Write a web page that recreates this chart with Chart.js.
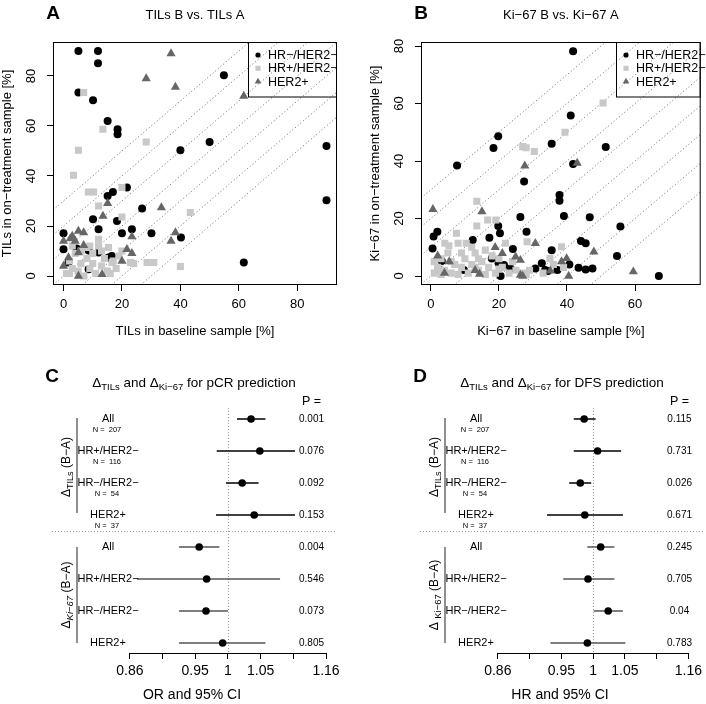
<!DOCTYPE html>
<html>
<head>
<meta charset="utf-8">
<script src="https://cdn.jsdelivr.net/npm/chart.js@4.4.1/dist/chart.umd.min.js"></script>
<style>
body { margin: 0; background: #fff; width: 706px; height: 704px; position: relative; overflow: hidden; }
canvas { position: absolute; }
</style>
</head>
<body>
<canvas id="pA" width="353" height="352" style="left:0px;top:0px"></canvas>
<canvas id="pB" width="338" height="352" style="left:368px;top:0px"></canvas>
<canvas id="pC" width="353" height="352" style="left:0px;top:352px"></canvas>
<canvas id="pD" width="338" height="352" style="left:368px;top:352px"></canvas>
<script>
const FONT = "'Liberation Sans', Arial, Helvetica, sans-serif";
Chart.defaults.font.family = FONT;
Chart.defaults.color = '#000';

// A: TILs baseline (x) vs on-treatment (y)
const tilsHRneg = [
  [5.1,90],[11.8,90],[11.8,85.1],[5.1,73.4],[10.1,70.3],[15.1,62],[18.5,58.7],[18.5,56.7],
  [40,50.3],[50,53.6],[54.9,80.3],[90,52],[21.7,35.4],[15.1,32],[16.9,33.6],[26.9,27],
  [10.1,22.7],[18.3,22],[12,18.7],[20,17.1],[23.4,18.7],[30.1,17.1],[40.2,15.4],[0,17.1],
  [90,30.3],[61.7,5.4],[8.6,10.2],[12,9.4],[15.4,7.4],[0,10.7],[1.7,5.4],[4.5,11],[8.6,2.7],[16.5,8]
];
const tilsHRpos = [
  [6.9,73.4],[13.5,58.7],[28.3,53.6],[5.1,50.3],[3.4,40.3],[8.5,33.6],[10.3,33.6],[20,35.4],
  [12,28],[43.4,25.4],[20,23.6],[12,14.7],[40,3.8],[28.6,5.4],[30.9,5.4],[22.9,5.4],[16.6,5.4],
  [8,11.4],[15.4,11.4],[20,10],[1,1],[2,6],[3,3],[4,9],[5,2],[6,5],[7,0],[8,7],[9,3],[10,5],
  [11,1],[12,12],[13,4],[14,7],[15,2],[17,6],[18,3],[19,8],[24,5],[3,12],[6,10],[10,9],[13,10],
  [16,1],[2,1],[9,12]
];
const tilsHER2 = [
  [36.8,89],[28.3,79],[38.3,75.6],[61.7,72],[15.1,29.1],[13.5,24],[33.5,27.4],[5.1,18],[6.9,17.4],
  [0,14],[2.3,15],[23.4,15.8],[38.3,17.4],[36.8,14],[21.7,10.7],[23.4,9.1],[20,6],[5.1,9.4],[1.7,7.4],
  [0,4],[13.2,0.7],[5.1,0],[6.9,12.3],[4,14],[3,16]
];

// B: Ki-67 baseline (x) vs on-treatment (y)
const kiHRneg = [
  [41.8,78.2],[41.1,55.8],[19.8,48.6],[18.4,44.5],[35.5,46],[51.4,44.9],[7.7,38.4],[41.8,39],
  [27.4,32.9],[37.8,28.2],[37.8,26.2],[26.3,20.5],[39.1,20.9],[46.7,20.4],[55.7,17.2],[19.8,17.4],
  [20.3,14.9],[1.9,15.4],[0.8,13.7],[17.2,13.3],[28.1,15.4],[12.3,12.5],[44.1,12.2],[45.5,11.4],
  [54.7,7],[35.5,9],[24.1,9.4],[17.9,6.1],[40.7,4],[19.9,4.4],[21.5,3.8],[23.4,2.6],[30.7,2.6],
  [32.6,4.4],[33.6,2.1],[37.2,2.1],[43.4,2.9],[45.5,2.3],[47.5,2.6],[20.5,0],[67,0],[3.2,5.2],
  [2.2,2.4],[9.7,2.1],[0.5,9.6],[34.4,1.7]
];
const kiHRpos = [
  [50.6,60.2],[39.4,50],[27,45],[28,44.6],[30.4,43.3],[13.5,26],[16.7,19.5],[19.1,19.5],[13.5,17.4],
  [7.5,14.9],[4.1,11.4],[5.3,10.5],[8,11.4],[10.4,11.4],[28.3,11.9],[38.4,10.2],[21.9,11.4],[20,2.4],[35,6.1],
  [1,1],[2,3],[3,6],[4,2],[5,8],[6,1],[7,4],[8,0.5],[9,3],[10,6],[11,1],[12,4],[13,8],[14,2],[15,5],
  [16,0.5],[17,3],[18,7],[19,1],[21,3],[23,1],[24,5],[25,2],[27,1],[29,2],[12,10],[14,6],[6,5],
  [3,0.5],[9,8],[1,5],[16,9],[13,3],[20,6],[28,0.5],[33,1],[36,4],[39,3]
];
const kiHER2 = [
  [27.6,38.3],[43,39.3],[0.6,23.2],[15,22.4],[30.7,11.4],[47.9,8.4],[18.9,10],[21,7.9],[24.9,6.7],
  [26.3,5.5],[39.9,6.1],[38.4,5],[40.5,0],[14.3,0.7],[26.3,0.3],[27,0],[35.1,1.8],[5.4,5],[59.5,1.5],
  [2,7],[13,2],[4,1]
];

const groupNames = ['HR\u2212/HER2\u2212', 'HR+/HER2\u2212', 'HER2+'];
const groupColors = ['#000000', '#c8c8c8', '#666666'];
const groupShapes = ['circle', 'rect', 'triangle'];
const tilsTicks = [0, 20, 40, 60, 80];
const kiXTicks = [0, 20, 40, 60];
const kiYTicks = [0, 20, 40, 60, 80];
const tilsDiagonals = [-30, -20, -10, 0, 10, 20, 30];
const kiDiagonals = [-50, -40, -30, -20, -10, 0, 10, 20, 30];

// C / D: forest plots
const rowLabels = ['All', 'HR+/HER2\u2212', 'HR\u2212/HER2\u2212', 'HER2+', 'All', 'HR+/HER2\u2212', 'HR\u2212/HER2\u2212', 'HER2+'];
const rowN = ['207', '116', '54', '37'];
const pcrEst = [1.036, 1.050, 1.022, 1.041, 0.957, 0.968, 0.967, 0.992];
const pcrLo  = [1.014, 0.983, 0.997, 0.982, 0.928, 0.870, 0.928, 0.928];
const pcrHi  = [1.059, 1.108, 1.048, 1.108, 0.987, 1.083, 1.000, 1.059];
const pcrP   = ['0.001', '0.076', '0.092', '0.153', '0.004', '0.546', '0.073', '0.805'];
const dfsEst = [0.986, 1.007, 0.980, 0.987, 1.012, 0.992, 1.024, 0.991];
const dfsLo  = [0.970, 0.970, 0.963, 0.930, 0.991, 0.954, 1.001, 0.935];
const dfsHi  = [1.004, 1.045, 0.997, 1.048, 1.034, 1.034, 1.048, 1.052];
const dfsP   = ['0.115', '0.731', '0.026', '0.671', '0.245', '0.705', '0.04', '0.783'];
const ciTicks = [0.8607, 0.9048, 0.9512, 1, 1.0513, 1.1052, 1.1618];
const ciTickLabels = ['0.86', '', '0.95', '1', '1.05', '', '1.16'];

function toXY(arr) { return arr.map(p => ({ x: p[0], y: p[1] })); }

// text made of pieces (for subscripts), centred on x,y
function richText(ctx, parts, x, y, rot) {
  ctx.save();
  ctx.translate(x, y);
  if (rot) ctx.rotate(rot);
  let w = 0;
  parts.forEach(p => { ctx.font = p.font; p.w = ctx.measureText(p.t).width; w += p.w; });
  let cx = -w / 2;
  ctx.textAlign = 'left';
  ctx.textBaseline = 'alphabetic';
  parts.forEach(p => { ctx.font = p.font; ctx.fillText(p.t, cx, 4.5 + (p.dy || 0)); cx += p.w; });
  ctx.restore();
}

function scatterPanel(id, o) {
  const datasets = o.diagonals.map(c => ({
    data: [{ x: -50, y: -50 + c }, { x: 150, y: 150 + c }],
    showLine: true, pointRadius: 0, borderColor: '#444', borderWidth: 0.8,
    borderDash: [1, 2.5], order: 10
  }));
  o.groups.forEach((g, i) => datasets.push({
    data: toXY(g), pointStyle: groupShapes[i], pointRadius: [4, 5, 5.3][i],
    backgroundColor: groupColors[i], borderWidth: 0, order: 3 - i
  }));
  const tickFont = { size: 13 };
  new Chart(document.getElementById(id), {
    type: 'scatter',
    data: { datasets },
    options: {
      responsive: false, animation: false, events: [],
      layout: { padding: { left: 0, top: 42, right: o.padRight, bottom: 0 } },
      plugins: { legend: { display: false }, tooltip: { enabled: false } },
      scales: {
        x: {
          type: 'linear', min: o.xMin, max: o.xMax,
          afterBuildTicks: s => { s.ticks = o.xTicks.map(v => ({ value: v })); },
          afterFit: s => { s.height = 67; },
          grid: { drawOnChartArea: false, tickLength: 6, color: '#000' },
          border: { display: false },
          ticks: { padding: 6, font: tickFont, maxRotation: 0, autoSkip: false },
          title: { display: true, text: o.xTitle, font: { size: 13 }, padding: { top: 0, bottom: 12.5 } }
        },
        y: {
          type: 'linear', min: o.yMin, max: o.yMax,
          afterBuildTicks: s => { s.ticks = o.yTicks.map(v => ({ value: v })); },
          afterFit: s => { s.width = 53; },
          grid: { drawOnChartArea: false, tickLength: 6, color: '#000' },
          border: { display: false },
          ticks: { padding: 8, font: tickFont, minRotation: 90, maxRotation: 90, crossAlign: 'center', autoSkip: false },
          title: { display: true, text: o.yTitle, font: { size: 13 }, padding: { top: 0, bottom: 0 } }
        }
      }
    },
    plugins: [{
      id: 'frame',
      afterDraw(chart) {
        const ctx = chart.ctx, a = chart.chartArea;
        ctx.save();
        ctx.strokeStyle = '#000';
        ctx.lineWidth = 1;
        ctx.strokeRect(a.left + 0.5, a.top + 0.5, a.right - a.left - 1, a.bottom - a.top - 1);
        // legend
        ctx.strokeRect(248.5, a.top + 0.5, a.right - 249, 54.5);
        groupNames.forEach((name, i) => {
          const y = 55 + i * 13.3;
          ctx.fillStyle = groupColors[i];
          Chart.helpers.drawPoint(ctx, { pointStyle: groupShapes[i], radius: [2.6, 3.6, 3.8][i], rotation: 0, borderWidth: 0 }, 258, y);
          ctx.fillStyle = '#000';
          ctx.font = '12.5px ' + FONT;
          ctx.textAlign = 'left';
          ctx.textBaseline = 'middle';
          ctx.fillText(name, 268, y + 0.5);
        });
        ctx.font = 'bold 19px ' + FONT;
        ctx.textAlign = 'center';
        ctx.fillText(o.letter, 53, 13.5);
        ctx.font = '13px ' + FONT;
        ctx.fillText(o.title, (a.left + a.right) / 2, 15.5);
        ctx.restore();
      }
    }]
  });
}

scatterPanel('pA', {
  groups: [tilsHRneg, tilsHRpos, tilsHER2], diagonals: tilsDiagonals, padRight: 16,
  xMin: -3.6, xMax: 93.6, yMin: -3.6, yMax: 93.6, xTicks: tilsTicks, yTicks: tilsTicks,
  xTitle: 'TILs in baseline sample [%]', yTitle: 'TILs in on\u2212treatment sample [%]',
  letter: 'A', title: 'TILs B vs. TILs A'
});
scatterPanel('pB', {
  groups: [kiHRneg, kiHRpos, kiHER2], diagonals: kiDiagonals, padRight: 1,
  xMin: -2.9, xMax: 79.3, yMin: -3.13, yMax: 81.4, xTicks: kiXTicks, yTicks: kiYTicks,
  xTitle: 'Ki\u221267 in baseline sample [%]', yTitle: 'Ki\u221267 in on\u2212treatment sample [%]',
  letter: 'B', title: 'Ki\u221267 B vs. Ki\u221267 A'
});

function forestPanel(id, o) {
  const rows = rowLabels.map((_, i) => i + 1);
  const datasets = rows.map((r, i) => ({
    data: [{ x: o.lo[i], y: r }, { x: o.hi[i], y: r }],
    showLine: true, pointRadius: 0, borderColor: i < 4 ? '#000' : '#555', borderWidth: 1.4, order: 2
  }));
  datasets.push({
    data: rows.map((r, i) => ({ x: o.est[i], y: r })),
    pointRadius: 3.8, backgroundColor: '#000', borderWidth: 0, order: 1
  });
  const f = (s, w) => (w || '') + s + 'px ' + FONT;
  new Chart(document.getElementById(id), {
    type: 'scatter',
    data: { datasets },
    options: {
      responsive: false, animation: false, events: [],
      layout: { padding: { left: 129.3, top: 51, right: o.padRight, bottom: 0 } },
      plugins: { legend: { display: false }, tooltip: { enabled: false } },
      scales: {
        x: {
          type: 'logarithmic', min: ciTicks[0], max: ciTicks[ciTicks.length - 1],
          afterBuildTicks: s => { s.ticks = ciTicks.map(v => ({ value: v })); },
          afterFit: s => { s.height = 51; },
          grid: { drawOnChartArea: false, tickLength: 6, color: '#000' },
          border: { display: true, color: '#000', width: 1 },
          ticks: { padding: 4, font: { size: 14 }, maxRotation: 0, autoSkip: false,
                   callback: (v, i) => ciTickLabels[i] }
        },
        y: { type: 'linear', min: 0.5, max: 8.3125, reverse: true, display: false }
      }
    },
    plugins: [{
      id: 'forestDecor',
      beforeDatasetsDraw(chart) {
        const ctx = chart.ctx, xs = chart.scales.x, ys = chart.scales.y;
        ctx.save();
        ctx.strokeStyle = '#999';
        ctx.lineWidth = 1;
        ctx.setLineDash([1, 2]);
        const x1 = Math.round(xs.getPixelForValue(1)) + 0.5;
        ctx.beginPath();
        ctx.moveTo(x1, ys.getPixelForValue(1) - 11);
        ctx.lineTo(x1, chart.chartArea.bottom);
        ctx.stroke();
        const ySep = Math.round((ys.getPixelForValue(4) + ys.getPixelForValue(5)) / 2) + 0.5;
        ctx.beginPath();
        ctx.moveTo(52, ySep);
        ctx.lineTo(337, ySep);
        ctx.stroke();
        ctx.restore();
      },
      afterDraw(chart) {
        const ctx = chart.ctx, ys = chart.scales.y;
        const rowY = r => ys.getPixelForValue(r);
        ctx.save();
        ctx.fillStyle = '#000';
        ctx.textAlign = 'center';
        ctx.textBaseline = 'middle';
        rows.forEach((r, i) => {
          const y = rowY(r);
          ctx.font = f(11);
          ctx.fillText(rowLabels[i], 108, y);
          if (i < 4) {
            ctx.font = f(7.5);
            ctx.fillText('N =  ' + rowN[i], 107, y + 10.5);
          }
          ctx.font = f(10);
          ctx.fillText(o.p[i], 311.5, y);
        });
        ctx.font = f(12.5);
        ctx.fillText('P =', 311.5, rowY(1) - 17.5);
        // brackets
        ctx.strokeStyle = '#555';
        ctx.lineWidth = 1.3;
        ctx.beginPath();
        ctx.moveTo(77, rowY(1) - 1); ctx.lineTo(77, rowY(4) - 2);
        ctx.moveTo(77, rowY(5)); ctx.lineTo(77, rowY(8));
        ctx.stroke();
        // group titles
        richText(ctx, [{ t: '\u0394', font: f(12) }, { t: 'TILs', font: f(9), dy: 3 }, { t: ' (B\u2212A)', font: f(12) }],
          65, (rowY(1) + rowY(4)) / 2, -Math.PI / 2);
        richText(ctx, [{ t: o.kiSep ? '\u0394 ' : '\u0394', font: f(12) }, { t: 'Ki\u221267', font: (o.kiItalic ? 'italic ' : '') + f(9.5), dy: 3 }, { t: ' (B\u2212A)', font: f(12) }],
          65, (rowY(5) + rowY(8)) / 2, -Math.PI / 2);
        // panel letter and title
        ctx.font = f(19, 'bold ');
        ctx.fillText(o.letter, 52, 25);
        richText(ctx, [
          { t: '\u0394', font: f(13.5) }, { t: 'TILs', font: f(9.5), dy: 3 },
          { t: ' and \u0394', font: f(13.5) }, { t: 'Ki\u221267', font: f(9.5), dy: 3 },
          { t: ' for ' + o.outcome + ' prediction', font: f(13.5) }
        ], 194, 30);
        ctx.font = f(14);
        ctx.fillText(o.axisTitle, 192, 343);
        ctx.restore();
      }
    }]
  });
}

forestPanel('pC', {
  est: pcrEst, lo: pcrLo, hi: pcrHi, p: pcrP, padRight: 27, letter: 'C',
  outcome: 'pCR', axisTitle: 'OR and 95% CI', kiItalic: true, kiSep: false
});
forestPanel('pD', {
  est: dfsEst, lo: dfsLo, hi: dfsHi, p: dfsP, padRight: 12, letter: 'D',
  outcome: 'DFS', axisTitle: 'HR and 95% CI', kiItalic: false, kiSep: true
});
</script>
</body>
</html>
